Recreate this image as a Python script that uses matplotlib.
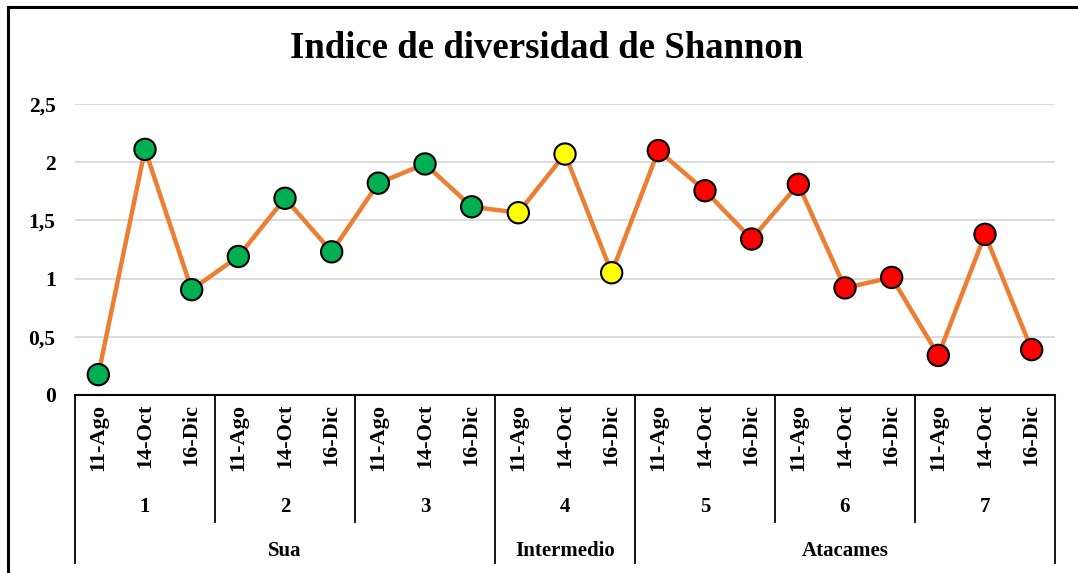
import matplotlib.pyplot as plt
from matplotlib.transforms import blended_transform_factory
from matplotlib.patches import Rectangle
from matplotlib.lines import Line2D

# datos
fechas = ['11-Ago', '14-Oct', '16-Dic']
estaciones = ['1', '2', '3', '4', '5', '6', '7']
zonas = ['Sua', 'Intermedio', 'Atacames']
estaciones_por_zona = [3, 1, 3]
colores_zona = ['#00B050', '#FFFF00', '#FF0000']
shannon = [0.175, 2.11, 0.905,
           1.19, 1.69, 1.23,
           1.82, 1.985, 1.617,
           1.566, 2.07, 1.05,
           2.10, 1.755, 1.34,
           1.81, 0.92, 1.01,
           0.34, 1.38, 0.39]

W, H = 1078, 573
fuente = 'Liberation Serif'

fig = plt.figure(figsize=(W / 100, H / 100), dpi=100)
ax = fig.add_axes([75 / W, 1 - 395 / H, 980 / W, 291 / H])

n = len(shannon)
xs = [i + 0.5 for i in range(n)]

# color de cada punto segun zona
cols = []
for z, k in enumerate(estaciones_por_zona):
    cols += [colores_zona[z]] * (k * len(fechas))

ax.plot(xs, shannon, color='#ED7D31', lw=3.2, zorder=2, clip_on=False)
ax.scatter(xs, shannon, s=235, c=cols, edgecolors='black', linewidths=1.5,
           zorder=3, clip_on=False)

ax.set_xlim(0, n)
ax.set_ylim(0, 2.5)
yt = [0, 0.5, 1, 1.5, 2, 2.5]
ax.set_yticks(yt)
ax.set_yticklabels(['0', '0,5', '1', '1,5', '2', '2,5'], fontfamily=fuente,
                   fontweight='bold', fontsize=15.5)
ax.tick_params(axis='y', length=0, pad=14)
ax.set_xticks([])
ax.grid(axis='y', color='#D9D9D9', lw=1.3)
ax.set_axisbelow(True)
for s in ['top', 'right', 'left']:
    ax.spines[s].set_visible(False)
ax.spines['bottom'].set_color('black')
ax.spines['bottom'].set_linewidth(1.5)

fig.text(547 / W, 1 - 49 / H, 'Indice de diversidad de Shannon', ha='center',
         va='center', fontfamily=fuente, fontweight='bold', fontsize=26.5)

# ejes de categorias en varios niveles
tr = blended_transform_factory(ax.transData, fig.transFigure)
def py(p):
    return 1 - p / H

for i, x in enumerate(xs):
    ax.text(x, py(404), fechas[i % 3], transform=tr, rotation=90, ha='center',
            va='top', fontfamily=fuente, fontweight='bold', fontsize=16)

for j, e in enumerate(estaciones):
    ax.text(j * 3 + 1.5, py(507), e, transform=tr, ha='center', va='center',
            fontfamily=fuente, fontweight='bold', fontsize=15)

pos = 0
limites_zona = [0]
for z, k in enumerate(estaciones_por_zona):
    ax.text(pos + k * 1.5, py(551), zonas[z], transform=tr, ha='center',
            va='center', fontfamily=fuente, fontweight='bold', fontsize=15)
    pos += k * 3
    limites_zona.append(pos)

for j in range(len(estaciones) + 1):
    x = j * 3
    fondo = 563 if x in limites_zona else 522
    ax.add_line(Line2D([x, x], [py(395), py(fondo)], transform=tr,
                       color='black', lw=1.3, clip_on=False))

# marco
fig.patches.append(Rectangle((8 / W, -0.1), 1.2, 1.1 - 7.5 / H,
                             transform=fig.transFigure, fill=False,
                             ec='black', lw=2.2))

fig.savefig('out.png', dpi=100)
